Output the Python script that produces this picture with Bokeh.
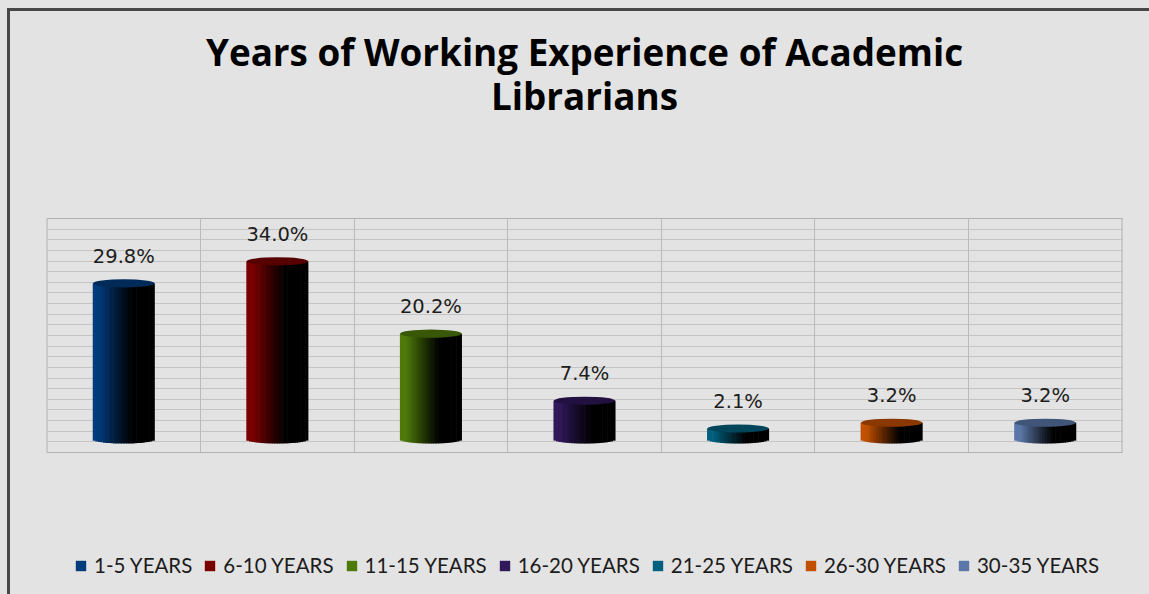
import numpy as np
from bokeh.plotting import figure
from bokeh.models import (ColumnDataSource, Range1d, Grid, SingleIntervalTicker, FixedTicker,
                          Legend, LegendItem, Label)
from bokeh.embed import file_html
from bokeh.resources import INLINE
from bokeh.core.properties import value

# ---------------- data ----------------
categories = ["1-5 YEARS", "6-10 YEARS", "11-15 YEARS", "16-20 YEARS",
              "21-25 YEARS", "26-30 YEARS", "30-35 YEARS"]
percentages = [29.8, 34.0, 20.2, 7.4, 2.1, 3.2, 3.2]
bar_colors = ["#003b7b", "#7a0000", "#4e7a0a", "#30185a", "#00607e", "#c04f00", "#5b77a8"]
title_lines = ["Years of Working Experience of Academic", "Librarians"]

# ---------------- helpers ----------------
def hex_to_rgb(h):
    h = h.lstrip("#")
    return [int(h[i:i + 2], 16) for i in (0, 2, 4)]

def shade(h, f):
    r, g, b = hex_to_rgb(h)
    return "#%02x%02x%02x" % (int(r * f), int(g * f), int(b * f))

BG = "#e3e3e3"
W, H = 1149, 594
# plot-area placement on the canvas (pixels)
PA_L, PA_R, PA_T, PA_B = 46.5, 1121.5, 218.0, 452.0
ZERO_PX = 439.0          # pixel row of value 0 (cylinder base)
NCAT = len(categories)
ypx = (ZERO_PX - PA_T) / 42.18          # pixels per value unit
xpx = (PA_R - PA_L) / NCAT
Y_LO, Y_HI = -(PA_B - ZERO_PX) / ypx, (ZERO_PX - PA_T) / ypx

N_STRIPS = 24
BAR_W = 0.40          # fraction of a category slot
CAP_H = 1.55          # ellipse height in value units

xs = [i + 0.5 for i in range(NCAT)]

# cylinder bodies drawn as thin vertical strips with a horizontal shading
sx, sb, st, sw, sc = [], [], [], [], []
for xc, v, col in zip(xs, percentages, bar_colors):
    for j in range(N_STRIPS):
        t = (j + 0.5) / N_STRIPS
        f = float(np.clip(1.0 - (t - 0.10) / 0.55, 0.0, 1.0)) ** 1.1
        sx.append(xc + (t - 0.5) * BAR_W)
        sb.append(-CAP_H / 2 * np.sqrt(max(0.0, 1 - (2 * t - 1) ** 2)))
        st.append(v)
        sw.append(BAR_W / N_STRIPS * 1.25)
        sc.append(shade(col, f))
strips = ColumnDataSource(dict(x=sx, bottom=sb, top=st, width=sw, color=sc))

caps = ColumnDataSource(dict(x=xs, y=percentages,
                             color=[shade(c, 0.72) for c in bar_colors],
                             label=[f"{v:.1f}%" for v in percentages]))

# ---------------- figure (frame = whole canvas) ----------------
x_start = -PA_L / xpx
x_end = NCAT + (W - PA_R) / xpx
y_start = -(H - ZERO_PX) / ypx
y_end = ZERO_PX / ypx

p = figure(width=W, height=H,
           x_range=Range1d(x_start, x_end), y_range=Range1d(y_start, y_end),
           x_axis_type=None, y_axis_type=None,
           output_backend="svg", toolbar_location=None,
           min_border=0, background_fill_alpha=0, border_fill_alpha=0,
           outline_line_color=None,
           styles={"background": "linear-gradient(#474747,#474747) 7px 8px / 100% 3px no-repeat, "
                                 "linear-gradient(#474747,#474747) 7px 8px / 3px 100% no-repeat, " + BG})

# gridlines: back-wall grid every 2 units from -2 to 42 across the plot area
gpx = (PA_B - PA_T) / 44.0
p.extra_y_ranges = {"grid": Range1d(-2 - (H - PA_B) / gpx, 42 + PA_T / gpx)}
hgrid = Grid(dimension=1, ticker=SingleIntervalTicker(interval=2), y_range_name="grid",
             bounds=(-2, 42), cross_bounds=(0, NCAT),
             grid_line_color="#c4c4c4", grid_line_width=1)
vgrid = Grid(dimension=0, ticker=FixedTicker(ticks=list(range(1, NCAT))),
             bounds=(0, NCAT), cross_bounds=(Y_LO, Y_HI),
             grid_line_color="#bababa", grid_line_width=1)
p.add_layout(hgrid)
p.add_layout(vgrid)

# plot-area outline
p.quad(left=[0], right=[NCAT], bottom=[Y_LO], top=[Y_HI],
       fill_color=None, line_color="#b0b0b0", line_width=1)

body = p.vbar(x="x", bottom="bottom", top="top", width="width", source=strips,
              fill_color="color", line_color=None)
p.ellipse(x="x", y="y", width=BAR_W, height=CAP_H, source=caps,
          fill_color="color", line_color=None)
p.text(x="x", y="y", text="label", source=caps, y_offset=-27,
       text_align="center", text_baseline="middle",
       text_font=value("DejaVu Sans"), text_font_size="19.5px", text_color="#1c1c1c")

# ---------------- title ----------------
for line, mid in zip(title_lines, [51, 95]):
    p.add_layout(Label(x=584, y=H - mid, x_units="screen", y_units="screen", text=line,
                       text_align="center", text_baseline="middle",
                       text_font="Open Sans", text_font_style="bold",
                       text_font_size="36.8px", text_color="#000000"))

# ---------------- legend ----------------
items = [LegendItem(label=c, renderers=[body], index=i * N_STRIPS)
         for i, c in enumerate(categories)]
legend = Legend(items=items, orientation="horizontal", location=(74, H - 577),
                glyph_width=13, glyph_height=13, label_standoff=7, spacing=11,
                padding=0, margin=0, border_line_color=None, background_fill_alpha=0,
                label_text_font="Lato", label_text_font_size="20.5px",
                label_text_color="#1c1c1c", label_height=13)
p.add_layout(legend, "center")

open("out.html", "w").write(file_html(p, INLINE))
